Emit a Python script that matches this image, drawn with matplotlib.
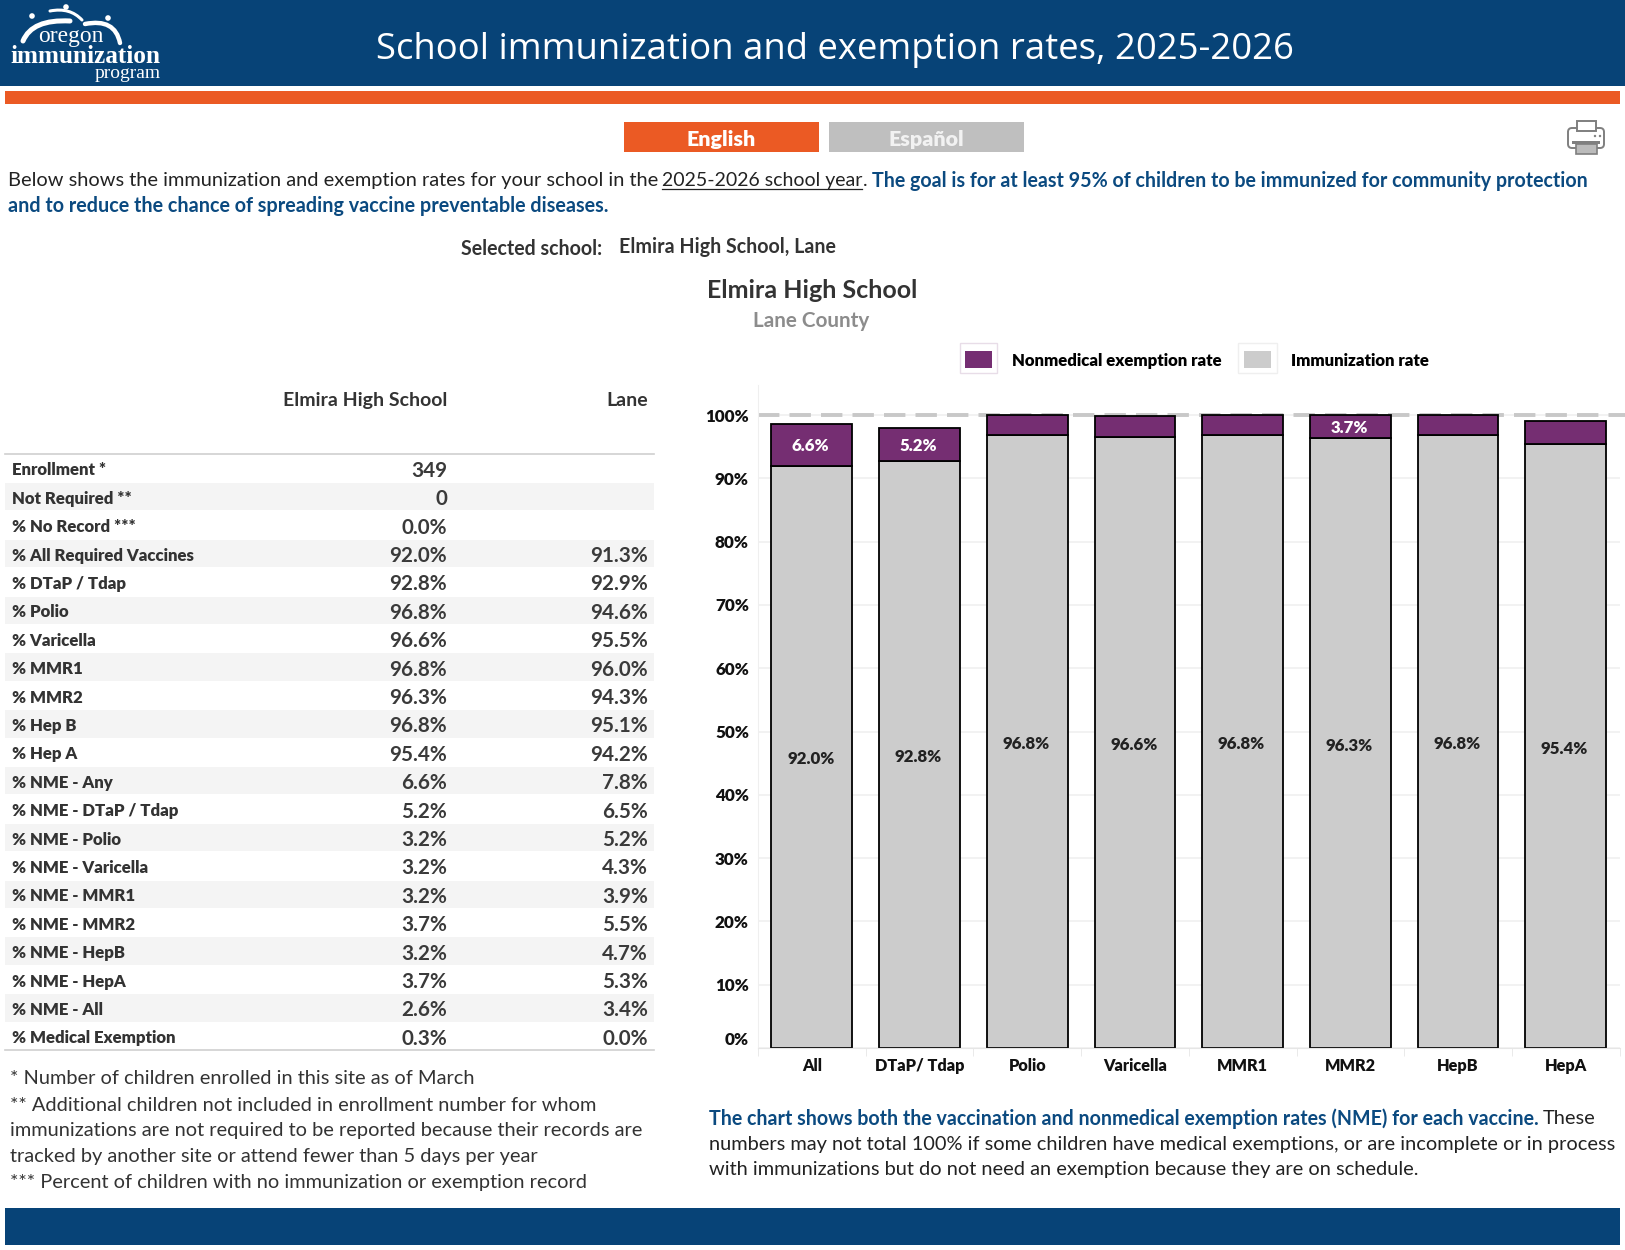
import matplotlib
matplotlib.use("Agg")
import matplotlib.pyplot as plt
from matplotlib.patches import Rectangle, Patch, PathPatch, FancyBboxPatch, Circle
from matplotlib.path import Path
from matplotlib.transforms import ScaledTranslation

W, H = 1625, 1250
NAVY = "#074377"; ORANGE = "#EB5A24"; PURPLE = "#752E72"; GREY = "#CCCCCC"; DARK = "#333333"
BODY = "Lato"

categories = ["All", "DTaP/ Tdap", "Polio", "Varicella", "MMR1", "MMR2", "HepB", "HepA"]
immunization = [92.0, 92.8, 96.8, 96.6, 96.8, 96.3, 96.8, 95.4]
nonmedical = [6.6, 5.2, 3.2, 3.2, 3.2, 3.7, 3.2, 3.7]
nme_labels = ["6.6%", "5.2%", "", "", "", "3.7%", "", ""]
y_ticks = [0, 10, 20, 30, 40, 50, 60, 70, 80, 90, 100]

row_labels = ["Enrollment *", "Not Required **", "% No Record ***", "% All Required Vaccines", "% DTaP / Tdap",
              "% Polio", "% Varicella", "% MMR1", "% MMR2", "% Hep B", "% Hep A", "% NME - Any",
              "% NME - DTaP / Tdap", "% NME - Polio", "% NME - Varicella", "% NME - MMR1", "% NME - MMR2",
              "% NME - HepB", "% NME - HepA", "% NME - All", "% Medical Exemption"]
school_col = ["349", "0", "0.0%", "92.0%", "92.8%", "96.8%", "96.6%", "96.8%", "96.3%", "96.8%", "95.4%",
              "6.6%", "5.2%", "3.2%", "3.2%", "3.2%", "3.7%", "3.2%", "3.7%", "2.6%", "0.3%"]
county_col = ["", "", "", "91.3%", "92.9%", "94.6%", "95.5%", "96.0%", "94.3%", "95.1%", "94.2%",
              "7.8%", "6.5%", "5.2%", "4.3%", "3.9%", "5.5%", "4.7%", "5.3%", "3.4%", "0.0%"]

fig = plt.figure(figsize=(W / 100, H / 100), dpi=100, facecolor="white")
bg = fig.add_axes([0, 0, 1, 1]); bg.set_xlim(0, W); bg.set_ylim(H, 0); bg.axis("off")
PX = 0.72

def T(x, y, s, px, color="#222222", weight="normal", ha="left", family=BODY, **kw):
    return bg.text(x, y, s, fontsize=px * PX, color=color, fontweight=weight, ha=ha, va="center_baseline",
                   family=family, **kw)

def R(x0, y0, x1, y1, **kw):
    kw.setdefault("lw", 0)
    bg.add_patch(Rectangle((x0, y0), x1 - x0, y1 - y0, **kw))

# bands
R(0, 0, W, 86, fc=NAVY)
R(5, 91, 1620, 104, fc=ORANGE)
R(5, 1208, 1620, 1245, fc=NAVY)
T(835, 45, "School immunization and exemption rates, 2025-2026", 36.5, color="white", ha="center", family="Open Sans")

# logo
def curve(p0, c, p1, lw):
    bg.add_patch(PathPatch(Path([p0, c, p1], [Path.MOVETO, Path.CURVE3, Path.CURVE3]), fc="none", ec="white", lw=lw, capstyle="round"))
curve((23, 41), (32, 19), (70, 21), 3.6)
curve((50, 11), (70, 7), (82, 20), 2.2)
curve((85, 24), (115, 18), (120, 43), 3.2)
for c in [(32, 16), (66, 7), (108, 18)]:
    bg.add_patch(Circle(c, 2.8, fc="white", lw=0))
T(38, 34, "oregon", 23.5, color="white", family="Liberation Serif")
T(10.5, 54, "immunization", 25.2, color="white", weight="bold", family="Liberation Serif")
T(95, 72, "program", 19.5, color="white", family="Liberation Serif")

# buttons
R(624, 122, 819, 152, fc=ORANGE)
R(829, 122, 1024, 152, fc="#BFBFBF")
T(721, 138, "English", 21.5, color="white", weight="heavy", ha="center")
T(926, 138, "Español", 21.5, color="#F2F2F2", weight="heavy", ha="center")

# printer
ic = "#7F7F7F"
bg.add_patch(FancyBboxPatch((1568, 128), 36, 20, boxstyle="round,pad=0,rounding_size=4", fc="white", ec=ic, lw=1.4))
R(1577, 121, 1596, 131, fc="white", ec=ic, lw=1.4)
R(1572, 141, 1600, 144, fc=ic)
R(1576, 144, 1597, 154, fc="#BBBBBB", ec=ic, lw=1.2)
bg.add_patch(Circle((1595, 136), 1.2, fc=ic)); bg.add_patch(Circle((1600, 136), 1.2, fc=ic))

# intro
BLUE = "#0B4A80"
T(8, 179, "Below shows the immunization and exemption rates for your school in the", 20.03)
T(662, 179, "2025-2026 school year", 19.5)
bg.plot([662, 862], [189, 189], color="#222222", lw=0.9)
T(863, 179, ".", 19.5)
T(872, 179, "The goal is for at least 95% of children to be immunized for community protection", 19.7, color=BLUE, weight="bold")
T(8, 204, "and to reduce the chance of spreading vaccine preventable diseases.", 19.8, color=BLUE, weight="bold")
T(602, 247, "Selected school:", 19.6, color=DARK, weight="bold", ha="right")
T(619, 245, "Elmira High School, Lane", 19.7, color=DARK, weight="bold")
T(812, 289, "Elmira High School", 25, color=DARK, weight="bold", ha="center")
T(811, 319, "Lane County", 20.6, color="#8C8C8C", weight="bold", ha="center")

# table
T(447, 399, "Elmira High School", 19.5, color=DARK, weight="bold", ha="right")
T(648, 399, "Lane", 19.5, color=DARK, weight="bold", ha="right")
top, rh = 454, 28.4
bg.plot([5, 654], [top, top], color="#CFCFCF", lw=1.2)
for i, (lab, a, b) in enumerate(zip(row_labels, school_col, county_col)):
    y0_ = top + i * rh
    if i % 2 == 1:
        R(5, y0_ + 0.5, 654, y0_ + rh - 0.5, fc="#F4F4F4")
    yc = y0_ + rh / 2 + 0.6
    T(12.5, yc, lab, 16.7, color=DARK, weight="heavy")
    T(447, yc, a, 20.6, color="#3A3A3A", weight="bold", ha="right")
    if b:
        T(648, yc, b, 20.6, color="#3A3A3A", weight="bold", ha="right")
bg.plot([5, 654], [top + 21 * rh] * 2, color="#CFCFCF", lw=1.2)

# notes
for y, s in [(1077, "* Number of children enrolled in this site as of March"),
             (1104, "** Additional children not included in enrollment number for whom"),
             (1129, "immunizations are not required to be reported because their records are"),
             (1155, "tracked by another site or attend fewer than 5 days per year"),
             (1181, "*** Percent of children with no immunization or exemption record")]:
    T(10, y, s, 20, color="#333333")
T(709, 1117, "The chart shows both the vaccination and nonmedical exemption rates (NME) for each vaccine.", 19.7, color=BLUE, weight="bold")
T(1543, 1117, "These", 19.95)
T(709, 1143, "numbers may not total 100% if some children have medical exemptions, or are incomplete or in process", 19.95)
T(709, 1168, "with immunizations but do not need an exemption because they are on schedule.", 19.95)

# chart
x0, x1, y0, yt = 758, 1619.6, 1048, 385
ax = fig.add_axes([x0 / W, 1 - y0 / H, (x1 - x0) / W, (y0 - yt) / H], facecolor="none")
ax.set_xlim(-0.5, len(categories) - 0.5)
ax.set_ylim(0, (y0 - yt) / 6.33)
xs = range(len(categories))
ax.grid(axis="y", color="#F0F0F0", lw=1.2); ax.set_axisbelow(True)
ax.plot([0, 1.01], [100, 100], transform=ax.get_yaxis_transform(), color="#C8C8C8", lw=2.8, ls=(0, (5.5, 2.6)), clip_on=False, zorder=1)
ax.bar(xs, immunization, width=0.75, color=GREY, edgecolor="black", lw=1.3, zorder=2)
ax.bar(xs, nonmedical, bottom=immunization, width=0.75, color=PURPLE, edgecolor="black", lw=1.3, zorder=2)
for x, v, n, lab in zip(xs, immunization, nonmedical, nme_labels):
    ax.annotate(f"{v:.1f}%", (x - 0.01, v / 2), xytext=(0, -0.7), textcoords="offset points", ha="center", va="center_baseline",
                fontsize=16.8 * PX, fontweight="heavy", color="#222222", family=BODY, zorder=3)
    if lab:
        ax.text(x - 0.01, v + n / 2, lab, ha="center", va="center_baseline", fontsize=16.8 * PX, fontweight="heavy", color="white", family=BODY, zorder=3)
ax.set_yticks(y_ticks, [f"{t}%" for t in y_ticks], fontsize=17 * PX, fontweight="heavy", family=BODY, color="#111111")
ax.set_xticks(list(xs), categories, fontsize=16.2 * PX, fontweight="heavy", family=BODY, color="#111111")
ax.tick_params(axis="y", length=0, pad=6.5)
ax.tick_params(axis="x", length=0, pad=7)
for lbl, tick in zip(ax.get_yticklabels(), y_ticks):
    dy = 6.7 if tick == 0 else 0
    lbl.set_transform(lbl.get_transform() + ScaledTranslation(0, dy / 72, fig.dpi_scale_trans))
for s in ("top", "right"):
    ax.spines[s].set_visible(False)
ax.spines["left"].set_color("#EFEFEF"); ax.spines["bottom"].set_color("#E6E6E6")
ax.set_xticks([i - 0.5 for i in range(len(categories) + 1)], minor=True)
ax.tick_params(axis="x", which="minor", length=6, color="#E6E6E6")

# legend frames and legend
R(960, 343, 997, 373, fc="none", ec="#E8DDE8", lw=1)
R(1238, 343, 1277, 373, fc="none", ec="#EFEFEF", lw=1)
leg = fig.legend(handles=[Patch(fc=PURPLE, label="Nonmedical exemption rate"), Patch(fc=GREY, label="Immunization rate")],
                 ncol=2, frameon=False, prop={"family": BODY, "weight": "heavy", "size": 16.8 * PX},
                 loc="center left", bbox_to_anchor=(965 / W, 1 - 360 / H), borderaxespad=0, borderpad=0,
                 handlelength=1.6, handleheight=1.15, handletextpad=1.2, columnspacing=1.35)

fig.savefig("out.png", dpi=100, facecolor="white")
